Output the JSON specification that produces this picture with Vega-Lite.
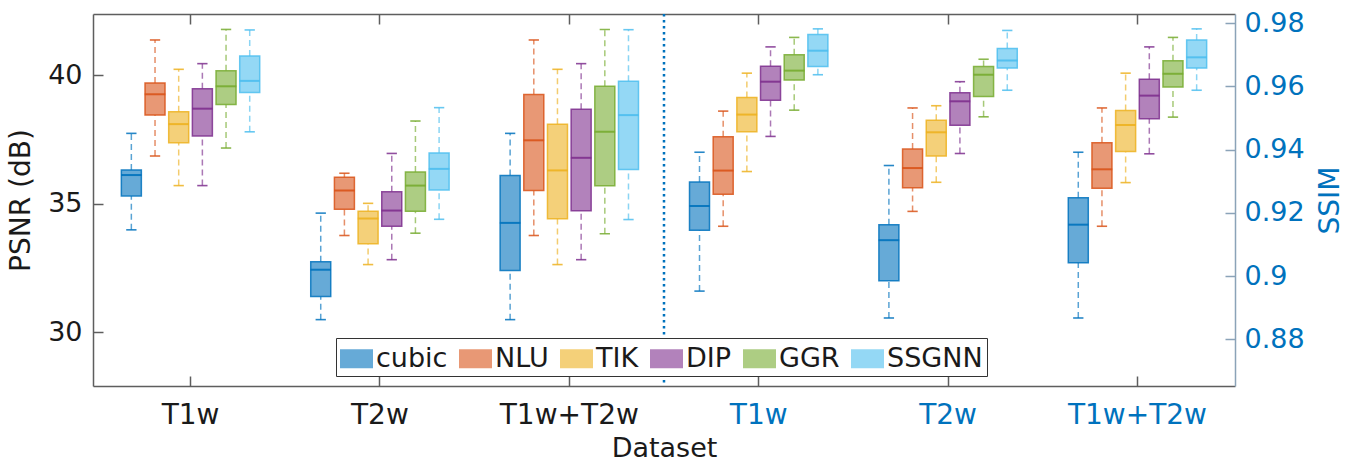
{
  "$schema": "https://vega.github.io/schema/vega-lite/v6.json",
  "width": 1142,
  "height": 372,
  "autosize": {"type": "none"},
  "padding": {"left": 93, "top": 14, "right": 125, "bottom": 82},
  "background": "white",
  "datasets": {
    "psnr": [
      {"set": "PSNR|T1w", "method": "cubic", "lo": 33.99, "q1": 35.31, "med": 36.12, "q3": 36.32, "hi": 37.74},
      {"set": "PSNR|T1w", "method": "NLU", "lo": 36.86, "q1": 38.45, "med": 39.26, "q3": 39.70, "hi": 41.37},
      {"set": "PSNR|T1w", "method": "TIK", "lo": 35.71, "q1": 37.38, "med": 38.10, "q3": 38.58, "hi": 40.23},
      {"set": "PSNR|T1w", "method": "DIP", "lo": 35.71, "q1": 37.64, "med": 38.70, "q3": 39.47, "hi": 40.45},
      {"set": "PSNR|T1w", "method": "GGR", "lo": 37.17, "q1": 38.86, "med": 39.57, "q3": 40.17, "hi": 41.78},
      {"set": "PSNR|T1w", "method": "SSGNN", "lo": 37.80, "q1": 39.33, "med": 39.78, "q3": 40.75, "hi": 41.76},
      {"set": "PSNR|T2w", "method": "cubic", "lo": 30.50, "q1": 31.40, "med": 32.44, "q3": 32.75, "hi": 34.64},
      {"set": "PSNR|T2w", "method": "NLU", "lo": 33.77, "q1": 34.79, "med": 35.52, "q3": 36.03, "hi": 36.19},
      {"set": "PSNR|T2w", "method": "TIK", "lo": 32.64, "q1": 33.45, "med": 34.43, "q3": 34.71, "hi": 35.02},
      {"set": "PSNR|T2w", "method": "DIP", "lo": 32.83, "q1": 34.13, "med": 34.74, "q3": 35.47, "hi": 36.96},
      {"set": "PSNR|T2w", "method": "GGR", "lo": 33.86, "q1": 34.71, "med": 35.71, "q3": 36.24, "hi": 38.22},
      {"set": "PSNR|T2w", "method": "SSGNN", "lo": 34.40, "q1": 35.54, "med": 36.36, "q3": 36.98, "hi": 38.74},
      {"set": "PSNR|T1w+T2w", "method": "cubic", "lo": 30.50, "q1": 32.41, "med": 34.26, "q3": 36.10, "hi": 37.74},
      {"set": "PSNR|T1w+T2w", "method": "NLU", "lo": 33.77, "q1": 35.52, "med": 37.47, "q3": 39.25, "hi": 41.37},
      {"set": "PSNR|T1w+T2w", "method": "TIK", "lo": 32.64, "q1": 34.42, "med": 36.30, "q3": 38.09, "hi": 40.23},
      {"set": "PSNR|T1w+T2w", "method": "DIP", "lo": 32.83, "q1": 34.73, "med": 36.79, "q3": 38.68, "hi": 40.45},
      {"set": "PSNR|T1w+T2w", "method": "GGR", "lo": 33.84, "q1": 35.70, "med": 37.80, "q3": 39.57, "hi": 41.78},
      {"set": "PSNR|T1w+T2w", "method": "SSGNN", "lo": 34.39, "q1": 36.34, "med": 38.45, "q3": 39.77, "hi": 41.77}
    ],
    "ssim": [
      {"set": "SSIM|T1w", "method": "cubic", "lo": 0.8953, "q1": 0.9145, "med": 0.9222, "q3": 0.9298, "hi": 0.9392},
      {"set": "SSIM|T1w", "method": "NLU", "lo": 0.9158, "q1": 0.9259, "med": 0.9334, "q3": 0.9441, "hi": 0.9522},
      {"set": "SSIM|T1w", "method": "TIK", "lo": 0.9331, "q1": 0.9457, "med": 0.9511, "q3": 0.9565, "hi": 0.9642},
      {"set": "SSIM|T1w", "method": "DIP", "lo": 0.9442, "q1": 0.9556, "med": 0.9615, "q3": 0.9664, "hi": 0.9725},
      {"set": "SSIM|T1w", "method": "GGR", "lo": 0.9525, "q1": 0.9620, "med": 0.9650, "q3": 0.9700, "hi": 0.9755},
      {"set": "SSIM|T1w", "method": "SSGNN", "lo": 0.9637, "q1": 0.9663, "med": 0.9713, "q3": 0.9764, "hi": 0.9782},
      {"set": "SSIM|T2w", "method": "cubic", "lo": 0.8868, "q1": 0.8986, "med": 0.9114, "q3": 0.9163, "hi": 0.9350},
      {"set": "SSIM|T2w", "method": "NLU", "lo": 0.9205, "q1": 0.9280, "med": 0.9342, "q3": 0.9402, "hi": 0.9532},
      {"set": "SSIM|T2w", "method": "TIK", "lo": 0.9297, "q1": 0.9380, "med": 0.9455, "q3": 0.9493, "hi": 0.9539},
      {"set": "SSIM|T2w", "method": "DIP", "lo": 0.9388, "q1": 0.9477, "med": 0.9553, "q3": 0.9580, "hi": 0.9615},
      {"set": "SSIM|T2w", "method": "GGR", "lo": 0.9504, "q1": 0.9568, "med": 0.9637, "q3": 0.9663, "hi": 0.9686},
      {"set": "SSIM|T2w", "method": "SSGNN", "lo": 0.9588, "q1": 0.9658, "med": 0.9682, "q3": 0.9720, "hi": 0.9777},
      {"set": "SSIM|T1w+T2w", "method": "cubic", "lo": 0.8868, "q1": 0.9043, "med": 0.9163, "q3": 0.9248, "hi": 0.9392},
      {"set": "SSIM|T1w+T2w", "method": "NLU", "lo": 0.9158, "q1": 0.9278, "med": 0.9338, "q3": 0.9422, "hi": 0.9532},
      {"set": "SSIM|T1w+T2w", "method": "TIK", "lo": 0.9296, "q1": 0.9394, "med": 0.9478, "q3": 0.9524, "hi": 0.9642},
      {"set": "SSIM|T1w+T2w", "method": "DIP", "lo": 0.9387, "q1": 0.9498, "med": 0.9571, "q3": 0.9623, "hi": 0.9725},
      {"set": "SSIM|T1w+T2w", "method": "GGR", "lo": 0.9503, "q1": 0.9598, "med": 0.9640, "q3": 0.9681, "hi": 0.9755},
      {"set": "SSIM|T1w+T2w", "method": "SSGNN", "lo": 0.9588, "q1": 0.9658, "med": 0.9692, "q3": 0.9747, "hi": 0.9782}
    ],
    "divider": [{"set": "SSIM|T1w"}]
  },
  "layer": [
    {
      "data": {"name": "psnr"},
      "encoding": {
        "x": {"field": "set", "type": "nominal", "title": "Dataset",
          "scale": {"domain": ["PSNR|T1w", "PSNR|T2w", "PSNR|T1w+T2w", "SSIM|T1w", "SSIM|T2w", "SSIM|T1w+T2w"], "paddingInner": 0, "paddingOuter": 0.015},
          "axis": {"orient": "bottom", "labelExpr": "split(datum.value, '|')[1]", "labelColor": {"condition": {"test": "indexof(datum.value, 'SSIM') === 0", "value": "#0072BD"}, "value": "#1a1a1a"}}},
        "xOffset": {"field": "method", "type": "nominal", "scale": {"domain": ["cubic", "NLU", "TIK", "DIP", "GGR", "SSGNN"], "paddingInner": 0, "paddingOuter": 1.01}},
        "stroke": {"field": "method", "type": "nominal", "title": null, "scale": {"domain": ["cubic", "NLU", "TIK", "DIP", "GGR", "SSGNN"], "range": ["#0072BD", "#D95319", "#EDB120", "#7E2F8E", "#77AC30", "#4DBEEE"]}}
      },
      "layer": [
        {"mark": {"type": "rule", "strokeDash": [6, 4], "strokeWidth": 1.5, "opacity": 0.65},
         "encoding": {"y": {"field": "lo", "type": "quantitative", "title": "PSNR (dB)", "scale": {"domain": [27.92, 42.38], "nice": false, "zero": false}, "axis": {"values": [30, 35, 40]}}, "y2": {"field": "q1"}}},
        {"mark": {"type": "rule", "strokeDash": [6, 4], "strokeWidth": 1.5, "opacity": 0.65},
         "encoding": {"y": {"field": "q3", "type": "quantitative", "title": "PSNR (dB)", "axis": {"values": [30, 35, 40]}}, "y2": {"field": "hi"}}},
        {"mark": {"type": "tick", "filled": false, "size": 9, "thickness": 0.3, "strokeWidth": 1.3, "opacity": 0.85},
         "encoding": {"y": {"field": "lo", "type": "quantitative", "title": "PSNR (dB)", "axis": {"values": [30, 35, 40]}}}},
        {"mark": {"type": "tick", "filled": false, "size": 9, "thickness": 0.3, "strokeWidth": 1.3, "opacity": 0.85},
         "encoding": {"y": {"field": "hi", "type": "quantitative", "title": "PSNR (dB)", "axis": {"values": [30, 35, 40]}}}},
        {"mark": {"type": "bar", "width": 20, "strokeWidth": 1.5, "strokeOpacity": 0.85, "fillOpacity": 1},
         "encoding": {"y": {"field": "q1", "type": "quantitative", "title": "PSNR (dB)", "axis": {"values": [30, 35, 40]}}, "y2": {"field": "q3"},
           "fill": {"field": "method", "type": "nominal", "title": null, "scale": {"domain": ["cubic", "NLU", "TIK", "DIP", "GGR", "SSGNN"], "range": ["#66AAD7", "#E89875", "#F4D079", "#B282BB", "#ADCD83", "#94D8F5"]}}}},
        {"mark": {"type": "tick", "filled": false, "size": 19, "thickness": 0.4, "strokeWidth": 1.6, "opacity": 0.9},
         "encoding": {"y": {"field": "med", "type": "quantitative", "title": "PSNR (dB)", "axis": {"values": [30, 35, 40]}}}}
      ]
    },
    {
      "data": {"name": "ssim"},
      "encoding": {
        "x": {"field": "set", "type": "nominal", "title": null, "axis": {"orient": "top", "labels": false, "title": null}},
        "xOffset": {"field": "method", "type": "nominal"},
        "stroke": {"field": "method", "type": "nominal", "title": null}
      },
      "layer": [
        {"mark": {"type": "rule", "strokeDash": [6, 4], "strokeWidth": 1.5, "opacity": 0.65},
         "encoding": {"y": {"field": "lo", "type": "quantitative", "title": "SSIM", "scale": {"domain": [0.8653, 0.9829], "nice": false, "zero": false}, "axis": {"orient": "right", "values": [0.88, 0.9, 0.92, 0.94, 0.96, 0.98], "format": "~g"}}, "y2": {"field": "q1"}}},
        {"mark": {"type": "rule", "strokeDash": [6, 4], "strokeWidth": 1.5, "opacity": 0.65},
         "encoding": {"y": {"field": "q3", "type": "quantitative", "title": "SSIM", "axis": {"orient": "right", "values": [0.88, 0.9, 0.92, 0.94, 0.96, 0.98], "format": "~g"}}, "y2": {"field": "hi"}}},
        {"mark": {"type": "tick", "filled": false, "size": 9, "thickness": 0.3, "strokeWidth": 1.3, "opacity": 0.85},
         "encoding": {"y": {"field": "lo", "type": "quantitative", "title": "SSIM", "axis": {"orient": "right", "values": [0.88, 0.9, 0.92, 0.94, 0.96, 0.98], "format": "~g"}}}},
        {"mark": {"type": "tick", "filled": false, "size": 9, "thickness": 0.3, "strokeWidth": 1.3, "opacity": 0.85},
         "encoding": {"y": {"field": "hi", "type": "quantitative", "title": "SSIM", "axis": {"orient": "right", "values": [0.88, 0.9, 0.92, 0.94, 0.96, 0.98], "format": "~g"}}}},
        {"mark": {"type": "bar", "width": 20, "strokeWidth": 1.5, "strokeOpacity": 0.85, "fillOpacity": 1},
         "encoding": {"y": {"field": "q1", "type": "quantitative", "title": "SSIM", "axis": {"orient": "right", "values": [0.88, 0.9, 0.92, 0.94, 0.96, 0.98], "format": "~g"}}, "y2": {"field": "q3"},
           "fill": {"field": "method", "type": "nominal", "title": null}}},
        {"mark": {"type": "tick", "filled": false, "size": 19, "thickness": 0.4, "strokeWidth": 1.6, "opacity": 0.9},
         "encoding": {"y": {"field": "med", "type": "quantitative", "title": "SSIM", "axis": {"orient": "right", "values": [0.88, 0.9, 0.92, 0.94, 0.96, 0.98], "format": "~g"}}}}
      ]
    },
    {
      "data": {"name": "divider"},
      "mark": {"type": "rule", "color": "#0072BD", "strokeWidth": 2.5, "strokeDash": [2.5, 3.5]},
      "encoding": {"x": {"field": "set", "type": "nominal", "bandPosition": 0, "axis": null}}
    }
  ],
  "resolve": {"scale": {"y": "independent"}, "axis": {"x": "independent"}},
  "config": {
    "font": "DejaVu Sans",
    "view": {"stroke": null},
    "axis": {"grid": false, "titleFontWeight": "normal", "domainWidth": 1.5, "tickWidth": 1.5},
    "axisLeft": {"tickSize": -10, "labelPadding": 21, "labelFontSize": 27, "labelColor": "#1a1a1a", "domainColor": "#5e5e5e", "tickColor": "#5e5e5e", "titleFontSize": 28, "titleColor": "#1a1a1a", "titlePadding": 12},
    "axisRight": {"tickSize": -10, "labelPadding": 19, "labelFontSize": 27, "labelColor": "#0072BD", "domainColor": "#8ba3b8", "tickColor": "#8ba3b8", "titleFontSize": 28, "titleColor": "#0072BD", "titlePadding": 12, "titleAngle": -90, "titleBaseline": "top"},
    "axisBottom": {"tickSize": -10, "labelPadding": 25, "labelFontSize": 28, "labelAngle": 0, "domainColor": "#5e5e5e", "tickColor": "#5e5e5e", "titleFontSize": 27, "titleColor": "#1a1a1a", "titlePadding": 6},
    "axisTop": {"tickSize": -10, "domainColor": "#5e5e5e", "tickColor": "#5e5e5e", "labels": false},
    "legend": {"orient": "none", "legendX": 243, "legendY": 324, "direction": "horizontal", "columns": 6, "symbolType": "M-1,-0.576H1V0.576H-1Z", "symbolSize": 1089, "symbolStrokeWidth": 0, "symbolOpacity": 1, "labelFontSize": 27, "labelColor": "#1a1a1a", "labelOffset": 3, "columnPadding": 11, "padding": 4, "strokeColor": "#333333", "fillColor": "white", "labelLimit": 300}
  }
}
